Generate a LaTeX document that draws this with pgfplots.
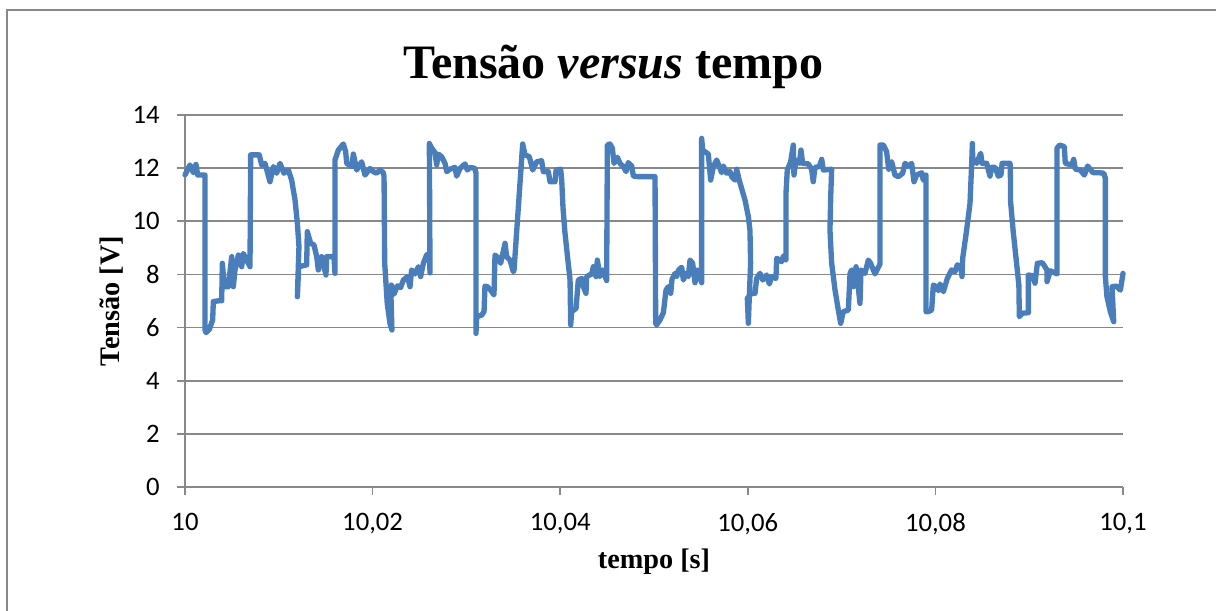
\documentclass[border=0pt]{standalone}
\usepackage{fontspec}
\setmainfont{Liberation Serif}
\newfontfamily\calibri{Carlito}
\usepackage{pgfplots}
\pgfplotsset{compat=1.18}
\definecolor{seriesblue}{HTML}{4A7EBB}
\definecolor{gridgray}{HTML}{888888}

% voltage samples: time after 10 s in ms, voltage in V
\pgfplotstableread{
t V
0.00 11.75
0.53 12.12
0.89 11.83
1.17 12.14
1.35 11.74
2.13 11.74
2.13 5.91
2.24 5.81
2.59 5.93
2.95 6.29
3.02 6.98
3.66 7.01
3.91 7.01
3.98 8.42
4.19 7.54
4.62 7.54
4.98 8.67
5.15 7.54
5.33 8.17
5.69 8.73
6.04 8.29
6.22 8.79
6.93 8.29
7.00 12.50
7.92 12.50
8.17 12.12
8.53 12.18
9.06 11.49
9.42 12.06
9.77 11.81
10.13 12.18
10.55 11.81
11.02 11.93
11.37 11.55
11.73 10.80
11.98 9.92
12.15 9.05
12.08 8.29
11.98 7.16
12.12 8.29
12.97 8.36
13.04 9.61
13.40 9.17
13.75 9.11
14.04 8.67
14.21 8.17
14.57 8.67
15.03 7.98
15.10 8.67
15.88 8.67
15.99 8.04
15.99 12.31
16.35 12.68
16.88 12.91
17.13 12.62
17.24 12.18
17.77 12.06
17.95 12.53
18.30 11.93
18.83 12.24
19.19 11.74
19.72 11.99
20.08 11.87
20.43 11.81
20.80 11.93
21.14 11.83
21.22 11.68
21.29 8.42
21.56 6.91
21.85 6.16
22.06 5.91
21.96 7.16
22.00 7.60
22.28 7.26
22.64 7.57
22.99 7.51
23.28 7.79
23.71 7.92
23.99 7.54
24.16 8.17
24.52 8.02
24.88 8.29
25.12 7.92
25.41 8.42
25.76 8.73
26.05 8.79
26.12 8.06
26.05 12.93
26.30 12.75
26.65 12.59
26.83 12.12
27.01 12.53
27.36 12.43
27.72 12.18
27.90 11.87
28.25 11.96
28.78 12.03
28.96 11.70
29.32 11.99
29.85 12.16
30.10 11.93
30.38 12.03
30.92 11.99
31.02 11.81
31.02 5.78
31.10 6.41
31.63 6.47
31.88 6.60
31.98 7.56
32.23 7.54
32.52 7.44
32.94 7.23
33.05 8.73
33.40 8.61
33.65 8.42
34.12 9.17
34.29 8.67
34.65 8.54
35.00 8.10
35.08 8.17
36.00 12.91
36.25 12.50
36.71 12.43
37.07 11.93
37.49 12.24
38.02 12.28
38.20 11.87
38.74 11.87
38.91 11.49
39.45 11.49
39.56 11.93
40.05 11.96
40.16 11.55
40.30 10.50
40.50 9.60
40.80 8.60
41.05 7.80
41.12 6.10
41.22 6.60
41.69 6.72
41.93 7.79
42.29 7.85
42.47 7.54
42.75 7.29
42.82 7.92
43.36 8.02
43.53 8.29
43.82 7.92
43.96 8.54
44.24 7.92
44.53 8.17
44.95 7.77
45.03 12.87
45.30 12.91
45.56 12.75
45.74 12.18
46.09 12.41
46.38 12.18
46.73 12.06
47.02 11.87
47.26 12.21
47.62 12.08
47.80 11.70
48.33 11.68
50.11 11.68
50.18 6.16
50.28 6.10
50.64 6.29
51.00 6.56
51.28 7.41
51.53 7.54
51.78 7.29
51.92 7.82
52.24 8.04
52.42 7.92
52.63 8.17
52.95 8.27
53.13 7.79
53.41 8.04
53.66 7.92
53.84 8.54
54.12 8.42
54.37 7.69
54.62 8.17
55.08 7.69
55.08 13.12
55.19 12.68
55.79 12.53
56.04 11.55
56.33 12.06
56.68 12.31
56.90 12.12
57.21 11.83
57.39 12.08
57.75 11.81
58.10 11.87
58.28 11.68
58.64 11.55
58.81 11.96
59.10 11.53
59.70 10.80
60.06 10.17
60.23 9.67
60.30 8.42
60.16 7.16
60.06 6.16
59.95 7.10
60.41 7.29
60.77 7.29
60.94 7.85
61.30 8.04
61.59 7.79
62.01 7.98
62.30 7.64
62.54 7.92
63.00 7.85
63.08 8.61
63.61 8.48
63.79 8.69
64.07 8.54
64.07 11.05
64.21 11.93
64.57 12.24
64.85 12.87
64.92 11.74
65.14 12.31
65.49 12.18
65.67 12.68
65.85 12.18
66.45 12.16
66.80 11.96
66.98 11.49
67.16 12.03
67.63 12.06
67.88 12.33
68.05 11.93
68.94 11.96
68.84 10.93
68.76 9.67
68.94 8.42
69.30 7.41
69.65 6.66
69.90 6.16
70.18 6.60
70.72 6.66
70.90 8.04
71.07 8.17
71.25 7.54
71.54 8.29
71.96 6.91
72.07 8.17
72.49 8.04
72.85 8.54
73.09 8.42
73.56 8.02
74.09 8.39
74.09 12.87
74.45 12.87
74.80 12.62
75.02 11.96
75.34 12.24
75.69 11.74
76.05 11.68
76.51 11.81
76.76 12.18
77.12 12.08
77.47 12.18
77.72 11.49
78.00 11.74
78.54 11.83
78.71 11.55
79.00 11.74
79.00 6.60
79.25 6.60
79.60 6.66
79.78 7.60
80.07 7.54
80.31 7.39
80.49 7.64
80.85 7.35
81.27 7.85
81.73 8.17
82.09 8.10
82.34 8.36
82.70 8.29
82.84 7.92
82.91 8.61
83.33 9.67
83.69 10.68
83.87 12.18
83.94 12.93
83.98 12.37
84.40 12.18
84.83 12.56
84.97 12.18
85.47 12.18
85.82 11.70
86.00 12.03
86.36 12.03
86.71 11.70
86.99 11.74
87.11 12.18
87.96 12.18
88.00 11.60
88.00 10.80
88.30 9.60
88.60 8.60
88.90 7.60
88.95 6.41
89.24 6.54
89.91 6.56
89.91 7.98
90.37 7.95
90.62 7.67
90.87 8.42
91.40 8.44
91.90 8.17
91.90 7.73
92.25 8.14
92.96 8.02
92.96 12.75
93.25 12.87
93.74 12.81
93.85 12.18
94.56 12.12
94.74 12.33
94.92 11.96
95.45 11.93
95.88 11.74
96.23 12.08
96.80 11.83
97.41 11.83
97.94 11.81
98.12 11.62
98.12 7.92
98.29 7.16
98.65 6.60
99.01 6.22
98.83 7.54
99.29 7.56
99.72 7.41
99.89 7.79
100.00 8.04
}\tensao

\begin{document}
\begin{tikzpicture}
\path[use as bounding box] (0pt,0pt) rectangle (456pt,228.75pt);
% chart area frame
\draw[gridgray, line width=0.75pt] (2.6pt,-5pt) -- (2.6pt,224.9pt) -- (460pt,224.9pt);
% title
\node[anchor=base, font=\bfseries\fontsize{18}{21}\selectfont, inner sep=0pt]
  at (230pt,199.5pt) {Tensão \textit{versus} tempo};
\begin{axis}[
  at={(69.375pt,46.125pt)}, anchor=south west,
  scale only axis, width=351.75pt, height=139.5pt,
  xmin=0, xmax=100, ymin=0, ymax=14,
  axis lines=left,
  axis line style={-, gridgray, line width=0.6pt},
  xtick={0,20,40,60,80,100},
  xticklabels={10,{10,02},{10,04},{10,06},{10,08},{10,1}},
  ytick={0,2,...,14},
  ymajorgrids,
  grid style={gridgray, line width=0.6pt},
  tick align=outside,
  major tick length=3pt,
  tick style={gridgray, line width=0.6pt},
  /pgf/number format/assume math mode=true,
  tick label style={font=\calibri\fontsize{10}{12}\selectfont, text=black},
  xticklabel style={yshift=-3.4pt},
  yticklabel style={xshift=-3pt},
  xlabel={tempo [s]},
  ylabel={Tensão [V]},
  label style={font=\bfseries\fontsize{10.6}{12.5}\selectfont},
  xlabel style={at={(axis description cs:0.5,0)}, anchor=base, yshift=-30.4pt},
  ylabel style={at={(axis description cs:-0.0779,0.5)}, anchor=center},
  clip=false,
]
\addplot[seriesblue, line width=2pt, line join=round, line cap=round]
  table[x=t, y=V] {\tensao};
\end{axis}
\end{tikzpicture}
\end{document}
